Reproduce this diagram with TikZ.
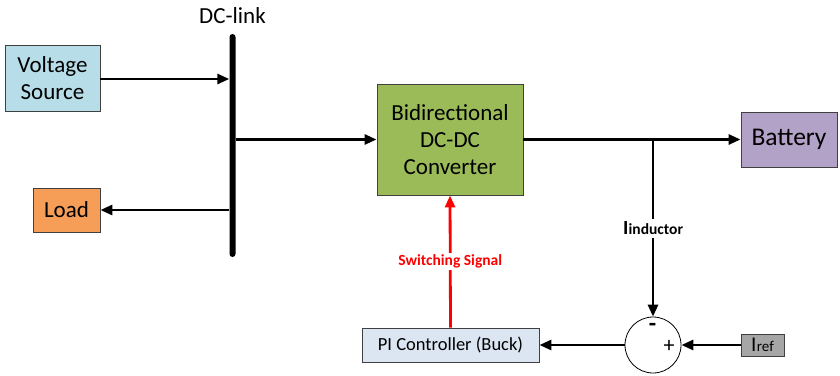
\documentclass[tikz,border=0pt]{standalone}
\usepackage{fontspec}
\setmainfont{Carlito}
\usetikzlibrary{arrows.meta,calc}

\definecolor{srcfill}{RGB}{183,222,232}
\definecolor{loadfill}{RGB}{246,158,88}
\definecolor{convfill}{RGB}{155,187,89}
\definecolor{batfill}{RGB}{179,162,199}
\definecolor{pifill}{RGB}{220,230,242}
\definecolor{reffill}{RGB}{166,166,166}
\definecolor{edge}{RGB}{64,64,64}
\definecolor{sig}{RGB}{255,0,0}

\tikzset{
  box/.style={draw=edge, line width=0.9pt, align=center, inner sep=0pt,
              font=\fontsize{23}{27}\selectfont},
  conn/.style={line width=2.8pt, -{Triangle[length=12pt,width=10pt]}},
  siglabel/.style={fill=white, text=sig, inner sep=2pt,
                   font=\bfseries\fontsize{15.5}{18}\selectfont},
}

\begin{document}
\begin{tikzpicture}[x=1pt, y=-1pt]
  \useasboundingbox (0,0) rectangle (840,375);

  % blocks
  \node[box, fill=srcfill, minimum width=95pt, minimum height=66pt] (vs) at (52.5,78) {Voltage\\Source};
  \node[box, fill=loadfill, minimum width=67pt, minimum height=44pt] (load) at (66.5,210) {Load};
  \node[box, fill=convfill, minimum width=146pt, minimum height=111pt] (conv) at (450,139.5) {Bidirectional\\DC-DC\\Converter};
  \node[box, fill=batfill, minimum width=96pt, minimum height=55pt, font=\fontsize{25.5}{30}\selectfont] (bat) at (789,139.5) {Battery};
  \node[box, fill=pifill, minimum width=177pt, minimum height=34pt, font=\fontsize{18.5}{22}\selectfont] (pi) at (450.5,345) {PI Controller (Buck)};
  \node[box, fill=reffill, minimum width=43pt, minimum height=22pt] (iref) at (762.5,345)
    {{\fontsize{21}{22}\selectfont I}\kern0.5pt{\fontsize{15}{16}\selectfont ref}};

  % summing junction
  \node[draw=black, line width=0.8pt, circle, minimum size=56pt, inner sep=0pt] (sum) at (653,345) {};
  \node[font=\bfseries\fontsize{24}{24}\selectfont, inner sep=0pt] (minus) at (652.5,327) {-};
  \node[font=\fontsize{22}{22}\selectfont, inner sep=0pt] (plus) at (669,346.5) {+};

  % DC-link bus bar
  \node[fill=black, minimum width=6pt, minimum height=223pt, inner sep=0pt, rounded corners=3pt] (bus) at (232.5,145.5) {};
  \node[font=\fontsize{23}{27}\selectfont, inner sep=0pt] (buslabel) at (232.5,16) {DC-link};

  % power flow
  \draw[conn] (vs.east |- 0,79) -- (bus.west |- 0,79);
  \draw[conn] (bus.west |- load.east) -- (load.east);
  \draw[conn] (bus.east |- conv.west) -- (conv.west);
  \draw[conn] (conv.east) -- (bat.west);

  % feedback loop
  \coordinate (tap) at (sum.north |- conv.east);
  \draw[conn] (tap) -- node[fill=white, inner sep=3pt, font=\bfseries] (ilabel)
    {{\fontsize{20}{22}\selectfont I}\kern0.3pt{\fontsize{15.5}{18}\selectfont inductor}} (sum.north);
  \draw[conn] (iref.west) -- (sum.east);
  \draw[conn] (sum.west) -- (pi.east);

  % switching signal
  \draw[conn, draw=sig, fill=sig] (pi.north) -- node[siglabel] (swlabel) {Switching Signal} (conv.south);
\end{tikzpicture}
\end{document}
